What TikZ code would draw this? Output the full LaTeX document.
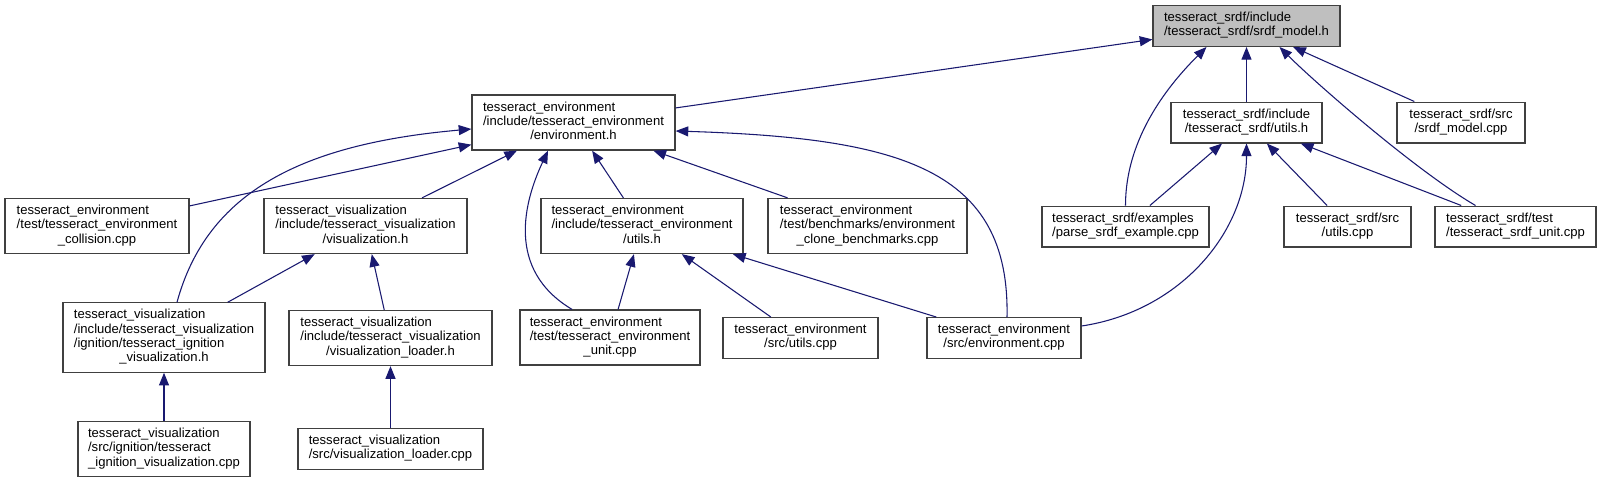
\documentclass[tikz,border=0pt]{standalone}
\usepackage{fontspec}
\setmainfont{Liberation Sans}
\usetikzlibrary{arrows.meta,calc}
\definecolor{cEdge}{HTML}{191970}
\definecolor{cLine}{HTML}{404040}
\definecolor{cCur}{HTML}{BFBFBF}
\newcommand{\doxlbl}[2]{\begin{tabular}{@{}l@{}}#1\\\multicolumn{1}{@{}c@{}}{#2}\end{tabular}}
\tikzset{
  file/.style = {draw=cLine, fill=white, line width=0.9pt, inner xsep=2pt,
                 inner ysep=4.6pt, font=\fontsize{9.8pt}{10.7pt}\selectfont},
  cur/.style  = {file, fill=cCur},
  wd/.style   = {minimum width=#1*0.75pt},
  inc/.style  = {draw=cEdge, line width=0.8pt, -{Triangle[length=9.5pt,width=7.5pt]}},
}

\begin{document}
\begin{tikzpicture}[x=0.75pt,y=-0.75pt]
  \useasboundingbox[fill=white] (0,0) rectangle (1602,483);
  \node[cur, wd=187] (model) at (1246.5,26)
    {\doxlbl{tesseract\_srdf/include}{/tesseract\_srdf/srdf\_model.h}};
  \node[file, wd=203] (env) at (573.5,122.5)
    {\doxlbl{tesseract\_environment\\/include/tesseract\_environment}{/environment.h}};
  \node[file, wd=151] (sutils) at (1246.5,122.5)
    {\doxlbl{tesseract\_srdf/include}{/tesseract\_srdf/utils.h}};
  \node[file, wd=128] (smodelcpp) at (1461,122.5)
    {\doxlbl{tesseract\_srdf/src}{/srdf\_model.cpp}};
  \node[file, wd=184] (collision) at (97,226)
    {\doxlbl{tesseract\_environment\\/test/tesseract\_environment}{\_collision.cpp}};
  \node[file, wd=203] (vis) at (365.5,226)
    {\doxlbl{tesseract\_visualization\\/include/tesseract\_visualization}{/visualization.h}};
  \node[file, wd=202] (eutils) at (642,226)
    {\doxlbl{tesseract\_environment\\/include/tesseract\_environment}{/utils.h}};
  \node[file, wd=199] (clone) at (867.5,226)
    {\doxlbl{tesseract\_environment\\/test/benchmarks/environment}{\_clone\_benchmarks.cpp}};
  \node[file, wd=167] (parse) at (1125.5,226.5)
    {\doxlbl{tesseract\_srdf/examples}{/parse\_srdf\_example.cpp}};
  \node[file, wd=127] (sutilscpp) at (1347.5,226.5)
    {\doxlbl{tesseract\_srdf/src}{/utils.cpp}};
  \node[file, wd=161] (sunit) at (1515.5,226.5)
    {\doxlbl{tesseract\_srdf/test}{/tesseract\_srdf\_unit.cpp}};
  \node[file, wd=202] (ignh) at (164,337.5)
    {\doxlbl{tesseract\_visualization\\/include/tesseract\_visualization\\/ignition/tesseract\_ignition}{\_visualization.h}};
  \node[file, wd=203] (visloadh) at (390.5,338)
    {\doxlbl{tesseract\_visualization\\/include/tesseract\_visualization}{/visualization\_loader.h}};
  \node[file, wd=180] (eunit) at (610,337.5)
    {\doxlbl{tesseract\_environment\\/test/tesseract\_environment}{\_unit.cpp}};
  \node[file, wd=155] (eutilscpp) at (800.5,338)
    {\doxlbl{tesseract\_environment}{/src/utils.cpp}};
  \node[file, wd=154] (envcpp) at (1004,338)
    {\doxlbl{tesseract\_environment}{/src/environment.cpp}};
  \node[file, wd=172] (igncpp) at (164,449)
    {\doxlbl{tesseract\_visualization\\/src/ignition/tesseract}{\_ignition\_visualization.cpp}};
  \node[file, wd=185] (visloadcpp) at (390.5,449)
    {\doxlbl{tesseract\_visualization}{/src/visualization\_loader.cpp}};

  \draw[inc] (env) -- (model);
  \draw[inc] (sutils) -- (model);
  \draw[inc] (parse.north) .. controls +(0,-70) and +(-35,35) .. ($(model.south)+(-40,0)$);
  \draw[inc] ($(sunit.north)+(-40,0)$) .. controls +(-60,-35) and +(35,35) .. ($(model.south)+(33,0)$);
  \draw[inc] (smodelcpp) -- (model);
  \draw[inc] (parse) -- (sutils);
  \draw[inc] (sutilscpp) -- (sutils);
  \draw[inc] (sunit) -- (sutils);
  \draw[inc] ($(envcpp.east)+(0,-12)$) .. controls +(100,-15) and +(0,87) .. (sutils.south);
  \draw[inc] (collision) -- (env);
  \draw[inc] ($(ignh.north)+(13,0)$) .. controls +(30,-110) and +(-170,15) .. ($(env.west)+(0,6.5)$);
  \draw[inc] (vis) -- (env);
  \draw[inc] ($(eunit.north)+(-38,0)$) .. controls +(-67,-40) and +(-23.5,50) .. ($(env.south)+(-25.5,0)$);
  \draw[inc] (eutils) -- (env);
  \draw[inc] (clone) -- (env);
  \draw[inc] ($(envcpp.north)+(3,0)$) .. controls +(3,-148) and +(225,7) .. ($(env.east)+(0,8.5)$);
  \draw[inc] (ignh) -- (vis);
  \draw[inc] (visloadh) -- (vis);
  \draw[inc] (eunit) -- (eutils);
  \draw[inc] (eutilscpp) -- (eutils);
  \draw[inc] (envcpp) -- (eutils);
  \draw[inc] (igncpp) -- (ignh);
  \draw[inc] (visloadcpp) -- (visloadh);
\end{tikzpicture}
\end{document}
